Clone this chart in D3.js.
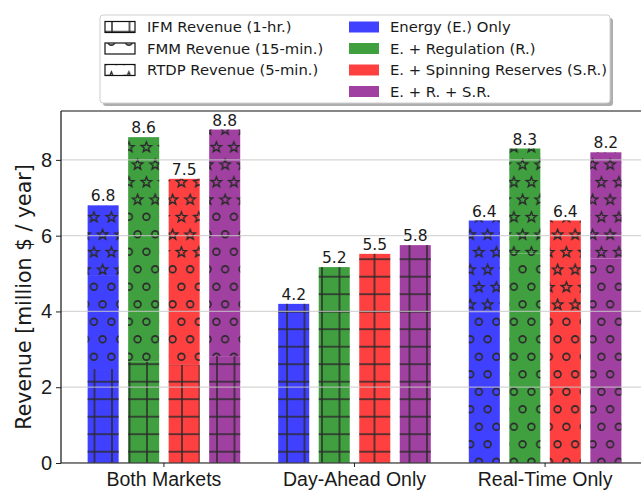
<!DOCTYPE html>
<html>
<head>
<meta charset="utf-8">
<script src="https://cdn.jsdelivr.net/npm/d3@7"></script>
<style>
  body { margin: 0; background: #fff; }
  svg { display: block; font-family: "DejaVu Sans", sans-serif; }
</style>
</head>
<body>
<svg id="chart"></svg>
<script>
const categories = ["Both Markets", "Day-Ahead Only", "Real-Time Only"]
const scenarios = ["Energy (E.) Only", "E. + Regulation (R.)", "E. + Spinning Reserves (S.R.)", "E. + R. + S.R."]
const scenarioColors = ["#4040ff", "#40a040", "#ff4040", "#a040a0"]
const markets = ["IFM Revenue (1-hr.)", "FMM Revenue (15-min.)", "RTDP Revenue (5-min.)"]

// revenue per category (rows) and scenario (columns), million $ / year
const ifmRevenue = [
  [2.48, 2.67, 2.59, 2.82],
  [4.2, 5.17, 5.52, 5.75],
  [0, 0, 0, 0]
]
const fmmRevenue = [
  [2.48, 4.06, 2.82, 3.91],
  [0, 0, 0, 0],
  [3.98, 5.53, 4.0, 5.4]
]
const rtdpRevenue = [
  [1.84, 1.87, 2.09, 2.07],
  [0, 0, 0, 0],
  [2.42, 2.77, 2.4, 2.8]
]
const yTicks = [0, 2, 4, 6, 8]

const width = 641, height = 491
const plot = { left: 61, top: 111, right: 648, bottom: 463 }

const svg = d3.select("#chart").attr("width", width).attr("height", height)
const defs = svg.append("defs")

const hatchColor = "#2a2a2a"
const P = 17.5

// grid hatch (IFM)
const gridPat = defs.append("pattern")
  .attr("id", "hatch-grid")
  .attr("patternUnits", "userSpaceOnUse")
  .attr("width", P).attr("height", P)
  .attr("x", 7 - P / 2).attr("y", 14.2 - P / 2)
gridPat.append("line").attr("x1", P / 2).attr("x2", P / 2).attr("y1", 0).attr("y2", P)
  .attr("stroke", hatchColor).attr("stroke-width", 1.5)
gridPat.append("line").attr("x1", 0).attr("x2", P).attr("y1", P / 2).attr("y2", P / 2)
  .attr("stroke", hatchColor).attr("stroke-width", 1.5)

const stagger = [[P / 4, P / 2], [3 * P / 4, 3 * P / 2], [P / 4 + P, P / 2], [3 * P / 4 - P, 3 * P / 2]]

// circle hatch (FMM)
const circPat = defs.append("pattern")
  .attr("id", "hatch-circle")
  .attr("patternUnits", "userSpaceOnUse")
  .attr("width", P).attr("height", 2 * P)
  .attr("x", 2).attr("y", -2)
stagger.forEach(([cx, cy]) => {
  circPat.append("circle").attr("cx", cx).attr("cy", cy).attr("r", 3.4)
    .attr("fill", "none").attr("stroke", hatchColor).attr("stroke-width", 1.6)
})

// star hatch (RTDP)
function starPath(cx, cy, ro, ri) {
  const pts = []
  for (let i = 0; i < 10; i++) {
    const r = i % 2 === 0 ? ro : ri
    const a = -Math.PI / 2 + i * Math.PI / 5
    pts.push([cx + r * Math.cos(a), cy + r * Math.sin(a)])
  }
  return "M" + pts.map(p => p.join(",")).join("L") + "Z"
}
const starPat = defs.append("pattern")
  .attr("id", "hatch-star")
  .attr("patternUnits", "userSpaceOnUse")
  .attr("width", P).attr("height", 2 * P)
  .attr("x", 2).attr("y", -2)
stagger.forEach(([cx, cy]) => {
  starPat.append("path").attr("d", starPath(cx, cy + 0.5, 5.4, 2.3))
    .attr("fill", "none").attr("stroke", hatchColor).attr("stroke-width", 1.4)
    .attr("stroke-linejoin", "miter")
})

const hatchIds = ["hatch-grid", "hatch-circle", "hatch-star"]

// scales
const x0 = d3.scaleBand().domain(categories).range([plot.left, plot.right])
  .paddingInner(0).paddingOuter(0.04)
const x1 = d3.scaleBand().domain(d3.range(scenarios.length)).range([0, x0.bandwidth()])
  .paddingInner(0.2346).paddingOuter(0.469)
const y = d3.scaleLinear().domain([0, 9.29]).range([plot.bottom, plot.top])

const clip = defs.append("clipPath").attr("id", "plot-clip")
clip.append("rect").attr("x", plot.left).attr("y", plot.top)
  .attr("width", plot.right - plot.left).attr("height", plot.bottom - plot.top)

// build segments
const segments = []
const totals = []
categories.forEach((cat, ci) => {
  scenarios.forEach((sc, si) => {
    let base = 0
    ;[ifmRevenue, fmmRevenue, rtdpRevenue].forEach((arr, mi) => {
      const v = arr[ci][si]
      if (v > 0) {
        segments.push({ cat, si, mi, y0: base, y1: base + v })
        base += v
      }
    })
    totals.push({ cat, si, total: base })
  })
})

const g = svg.append("g").attr("clip-path", "url(#plot-clip)")

g.selectAll("rect.bar")
  .data(segments)
  .join("rect")
  .attr("class", "bar")
  .attr("x", d => x0(d.cat) + x1(d.si))
  .attr("width", x1.bandwidth())
  .attr("y", d => y(d.y1))
  .attr("height", d => y(d.y0) - y(d.y1))
  .attr("fill", d => scenarioColors[d.si])

g.selectAll("rect.hatch")
  .data(segments)
  .join("rect")
  .attr("class", "hatch")
  .attr("x", d => x0(d.cat) + x1(d.si))
  .attr("width", x1.bandwidth())
  .attr("y", d => y(d.y1))
  .attr("height", d => y(d.y0) - y(d.y1))
  .attr("fill", d => `url(#${hatchIds[d.mi]})`)

// grid lines (drawn over the bars, like the reference)
g.selectAll("line.grid")
  .data(yTicks)
  .join("line")
  .attr("class", "grid")
  .attr("x1", plot.left).attr("x2", plot.right)
  .attr("y1", d => y(d)).attr("y2", d => y(d))
  .attr("stroke", "#c8c8c8").attr("stroke-opacity", 0.75).attr("stroke-width", 1.2)

// value labels
svg.selectAll("text.value")
  .data(totals)
  .join("text")
  .attr("class", "value")
  .attr("x", d => x0(d.cat) + x1(d.si) + x1.bandwidth() / 2)
  .attr("y", d => y(d.total) - 4)
  .attr("text-anchor", "middle")
  .style("font-size", "15.5px")
  .attr("fill", "#1a1a1a")
  .text(d => d.total.toFixed(1))

// axes
const yAxis = d3.axisLeft(y).tickValues(yTicks).tickSize(5).tickPadding(4).tickFormat(d3.format("d"))
const yg = svg.append("g").attr("transform", `translate(${plot.left},0)`).call(yAxis)
yg.select(".domain").remove()
yg.selectAll("text").style("font-size", "20px").attr("fill", "#1a1a1a")
yg.selectAll("line").attr("stroke", "#222")

const xAxis = d3.axisBottom(x0).tickSize(4).tickPadding(5)
const xg = svg.append("g").attr("transform", `translate(0,${plot.bottom})`).call(xAxis)
xg.select(".domain").remove()
xg.selectAll("text").style("font-size", "19.5px").attr("fill", "#1a1a1a")
xg.selectAll("line").attr("stroke", "#222")

// spines
svg.append("line").attr("x1", plot.left).attr("x2", plot.left).attr("y1", plot.top).attr("y2", plot.bottom)
  .attr("stroke", "#111").attr("stroke-width", 1.2)
svg.append("line").attr("x1", plot.left).attr("x2", plot.right).attr("y1", plot.bottom).attr("y2", plot.bottom)
  .attr("stroke", "#111").attr("stroke-width", 1.2)
svg.append("line").attr("x1", plot.left).attr("x2", plot.right).attr("y1", plot.top).attr("y2", plot.top)
  .attr("stroke", "#111").attr("stroke-width", 1.2)

// y label
svg.append("text")
  .attr("transform", `translate(24,${(plot.top + plot.bottom) / 2 + 10}) rotate(-90)`)
  .attr("text-anchor", "middle")
  .attr("dominant-baseline", "central")
  .style("font-size", "20.5px")
  .attr("fill", "#1a1a1a")
  .text("Revenue [million $ / year]")

// legend
const legend = svg.append("g")
legend.append("rect").attr("x", 103).attr("y", 18).attr("width", 510).attr("height", 88)
  .attr("rx", 3).attr("fill", "#9a9a9a").attr("opacity", 0.8)
legend.append("rect").attr("x", 100).attr("y", 15).attr("width", 510).attr("height", 88)
  .attr("rx", 3).attr("fill", "#fff").attr("stroke", "#cfcfcf").attr("stroke-width", 1)

const rowY = [27, 48.5, 70, 91.5]
const mItems = legend.selectAll("g.mitem").data(markets).join("g").attr("class", "mitem")
mItems.append("rect")
  .attr("x", 105).attr("y", (d, i) => rowY[i] - 5.5).attr("width", 30).attr("height", 11)
  .attr("fill", "#fff")
mItems.append("rect")
  .attr("x", 105).attr("y", (d, i) => rowY[i] - 5.5).attr("width", 30).attr("height", 11)
  .attr("fill", (d, i) => `url(#${hatchIds[i]})`).attr("stroke", "#111").attr("stroke-width", 1.2)
mItems.append("text")
  .attr("x", 147).attr("y", (d, i) => rowY[i]).attr("dy", "0.36em")
  .style("font-size", "14.8px").attr("fill", "#1a1a1a")
  .text(d => d)

const sItems = legend.selectAll("g.sitem").data(scenarios).join("g").attr("class", "sitem")
sItems.append("rect")
  .attr("x", 349).attr("y", (d, i) => rowY[i] - 5.5).attr("width", 30).attr("height", 11)
  .attr("fill", (d, i) => scenarioColors[i])
sItems.append("text")
  .attr("x", 390).attr("y", (d, i) => rowY[i]).attr("dy", "0.36em")
  .style("font-size", "14.8px").attr("fill", "#1a1a1a")
  .text(d => d)
</script>
</body>
</html>
